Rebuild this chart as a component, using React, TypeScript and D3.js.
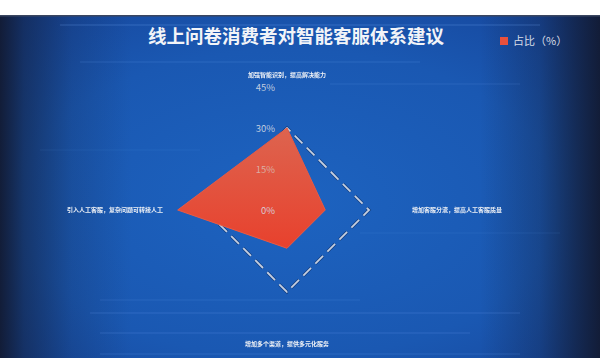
import React from "react";
import * as d3 from "d3";

const title = "线上问卷消费者对智能客服体系建议";
const legendLabel = "占比（%）";
const categories = [
  "加强智能识别，提高解决能力",
  "引入人工客服，复杂问题可转接人工",
  "增加多个渠道，提供多元化服务",
  "增加客服分流，提高人工客服质量",
];
const values = [30, 40, 14, 14];
const tickValues = [0, 15, 30, 45];
const ringValues = [30];

const W = 600;
const H = 358;
const cx = 287;
const cy = 210;

export default function App() {
  const r = d3.scaleLinear().domain([0, 45]).range([0, 123]);
  const n = categories.length;
  // counterclockwise from top (ECharts radar order)
  const angle = (i: number) => -Math.PI / 2 - (i * 2 * Math.PI) / n;
  const pt = (i: number, v: number): [number, number] => [
    cx + r(v) * Math.cos(angle(i)),
    cy + r(v) * Math.sin(angle(i)),
  ];
  const line = d3.line<[number, number]>().curve(d3.curveLinearClosed);
  const polyPath = line(values.map((v, i) => pt(i, v))) || "";

  const labelPos = [
    { x: cx, y: 77, anchor: "middle" },
    { x: 163, y: 212, anchor: "end" },
    { x: cx, y: 346, anchor: "middle" },
    { x: 412, y: 212, anchor: "start" },
  ];

  const streaks = [
    { y: 25, x1: 60, x2: 540, o: 0.18 },
    { y: 62, x1: 80, x2: 420, o: 0.12 },
    { y: 84, x1: 330, x2: 520, o: 0.1 },
    { y: 150, x1: 40, x2: 200, o: 0.06 },
    { y: 233, x1: 360, x2: 560, o: 0.07 },
    { y: 300, x1: 100, x2: 360, o: 0.1 },
    { y: 313, x1: 90, x2: 520, o: 0.14 },
    { y: 333, x1: 100, x2: 470, o: 0.14 },
    { y: 354, x1: 100, x2: 520, o: 0.12 },
  ];

  return (
    <svg
      width={W}
      height={H}
      style={{ position: "absolute", left: 0, top: 0, display: "block" }}
      fontFamily="'Noto Sans CJK SC', 'Noto Sans', sans-serif"
    >
      <defs>
        <radialGradient id="bg" cx="0.48" cy="0.55" r="0.75">
          <stop offset="0%" stopColor="#1d63c0" />
          <stop offset="60%" stopColor="#1a58b2" />
          <stop offset="100%" stopColor="#16459a" />
        </radialGradient>
        <linearGradient id="side" x1="0" y1="0" x2="1" y2="0">
          <stop offset="0%" stopColor="#121a32" stopOpacity="0.95" />
          <stop offset="4%" stopColor="#121a32" stopOpacity="0.55" />
          <stop offset="12%" stopColor="#121a32" stopOpacity="0.18" />
          <stop offset="22%" stopColor="#121a32" stopOpacity="0" />
          <stop offset="80%" stopColor="#121a32" stopOpacity="0" />
          <stop offset="90%" stopColor="#121a32" stopOpacity="0.3" />
          <stop offset="96%" stopColor="#121a32" stopOpacity="0.7" />
          <stop offset="100%" stopColor="#121a32" stopOpacity="0.95" />
        </linearGradient>
        <linearGradient id="red" x1="0" y1="0" x2="0" y2="1">
          <stop offset="0%" stopColor="#dd644f" />
          <stop offset="100%" stopColor="#e8412d" />
        </linearGradient>
        <filter id="soft" x="-10%" y="-10%" width="120%" height="120%">
          <feGaussianBlur stdDeviation="0.35" />
        </filter>
      </defs>
      <rect x={0} y={0} width={W} height={H} fill="#ffffff" />
      <rect x={0} y={15} width={W} height={H - 15} fill="url(#bg)" />
      <rect x={0} y={15} width={W} height={H - 15} fill="url(#side)" />
      <rect x={0} y={15} width={W} height={1.5} fill="#3a4660" />
      {streaks.map((s, i) => (
        <line
          key={i}
          x1={s.x1}
          x2={s.x2}
          y1={s.y}
          y2={s.y}
          stroke="#7fb4ff"
          strokeOpacity={s.o}
          strokeWidth={1.5}
        />
      ))}

      <text
        x={296}
        y={43}
        textAnchor="middle"
        fontSize={18.5}
        fontWeight={700}
        fill="#f2f4f8"
      >
        {title}
      </text>

      <rect x={500} y={37} width={8} height={8} fill="#e8503c" />
      <text x={513} y={45} fontSize={11} fill="#d8dde6">
        {legendLabel}
      </text>

      {ringValues.map((v) => (
        <g key={v}>
          <path
            d={line(categories.map((_, i) => pt(i, v))) || ""}
            fill="none"
            stroke="#0e2a5a"
            strokeOpacity={0.6}
            strokeWidth={3.2}
            strokeDasharray="11 6"
          />
          <path
            d={line(categories.map((_, i) => pt(i, v))) || ""}
            fill="none"
            stroke="#c4cee0"
            strokeWidth={1.8}
            strokeDasharray="11 6"
          />
        </g>
      ))}

      <path d={polyPath} fill="url(#red)" stroke="#e85a44" strokeWidth={1} />

      {tickValues.map((t) => (
        <text
          key={t}
          x={275}
          y={cy - r(t) + 3.5}
          textAnchor="end"
          fontSize={9.5}
          fill={t === 15 ? "#d9b9b0" : "#d6dbe4"}
          fillOpacity={0.9}
        >
          {t + "%"}
        </text>
      ))}

      {categories.map((c, i) => (
        <text
          key={c}
          x={labelPos[i].x}
          y={labelPos[i].y}
          textAnchor={labelPos[i].anchor as any}
          fontSize={6}
          fontWeight={700}
          fill="#eef1f6"
          filter="url(#soft)"
        >
          {c}
        </text>
      ))}
    </svg>
  );
}
